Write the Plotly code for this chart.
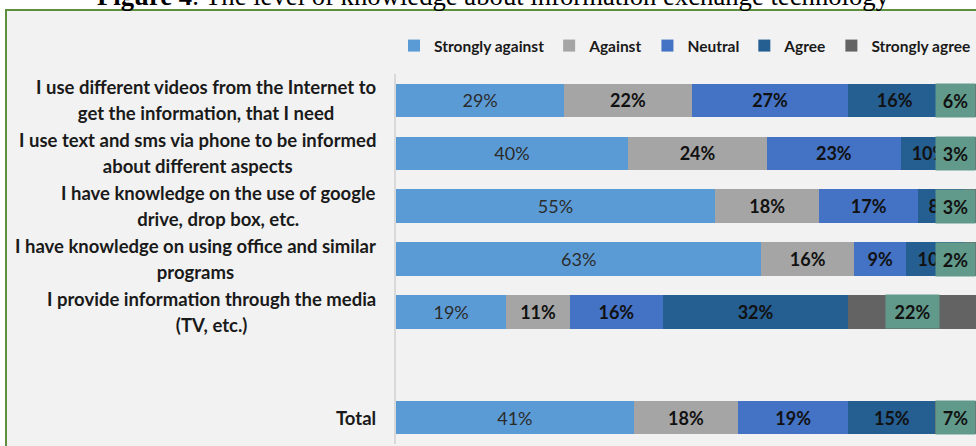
import plotly.graph_objects as go

# ---- data ----
categories = [
    "I use different videos from the Internet to<br>get the information, that I need",
    "I use text and sms via phone to be informed<br>about different aspects",
    "I have knowledge on the use of google<br>drive, drop box, etc.",
    "I have knowledge on using office and similar<br>programs",
    "I provide information through the media<br>(TV, etc.)",
    " ",
    "Total",
]
series_names = ["Strongly against", "Against", "Neutral", "Agree", "Strongly agree"]
strongly_against = [29, 40, 55, 63, 19, None, 41]
against = [22, 24, 18, 16, 11, None, 18]
neutral = [27, 23, 17, 9, 16, None, 19]
agree = [16, 10, 8, 10, 32, None, 15]
strongly_agree = [6, 3, 3, 2, 22, None, 7]
title_text = "<b>Figure 4</b>. The level of knowledge about information exchange technology"

# ---- style ----
W, H = 976, 446
L, R, T, B = 396, 0, 74, 2
PW, PH = W - L - R, H - T - B
colors = ["#5B9BD5", "#A5A5A5", "#4472C4", "#255E91", "#636363"]
label_box = "#619A8B"
FONT = "Lato"

def px_x(p):
    return (p - L) / PW

def px_y(p):
    return (H - B - p) / PH

fig = go.Figure()
all_series = [strongly_against, against, neutral, agree, strongly_agree]
for i, (name, vals) in enumerate(zip(series_names, all_series)):
    bold = i > 0
    txt = [None if v is None else (f"<b>{v}%</b>" if bold else f"{v}%") for v in vals]
    fig.add_trace(go.Bar(
        name=f"<b>{name}</b>", y=categories, x=vals, orientation="h",
        marker=dict(color=colors[i], line=dict(width=0)),
        text=txt if i < 4 else None,
        texttemplate="%{text}" if i < 4 else None,
        textposition="inside" if i < 4 else "none",
        insidetextanchor="middle", textangle=0, constraintext="none",
        insidetextfont=dict(family=FONT, size=18,
                            color="#2b2b2b" if i == 0 else "#111111"),
    ))

annotations = []
# labels for strongly agree segments (with filled box)
for k, v in enumerate(strongly_agree):
    if v is None:
        continue
    before = sum(s[k] for s in all_series[:4])
    if v >= 10:
        x, xa, w = before + v / 2, "center", 51
    else:
        x, xa, w = 100, "right", 37
    annotations.append(dict(
        x=x, y=categories[k], xref="x", yref="y", xanchor=xa, yanchor="middle",
        text=f"<b>{v}%</b>", showarrow=False, bgcolor=label_box,
        width=w, height=31, borderpad=1,
        font=dict(family=FONT, size=18, color="#111111"),
    ))

# category labels: base size 20 gives the wider line spacing, glyphs drawn smaller
for cat in categories:
    if not cat.strip():
        continue
    lines = cat.split("<br>")
    txt = "<br>".join(f'<span style="font-size:18.5px"><b>{ln}</b></span>' for ln in lines)
    annotations.append(dict(
        x=0, y=cat, xref="paper", yref="y", xanchor="right", yanchor="middle",
        xshift=-18, align="center", showarrow=False, text=txt,
        font=dict(family=FONT, size=20, color="#1a1a1a"),
    ))

# cropped title at the top
annotations.append(dict(
    x=px_x(493), y=px_y(13), xref="paper", yref="paper", xanchor="center", yanchor="bottom",
    text=title_text, showarrow=False,
    font=dict(family="Liberation Serif", size=26.7, color="#000000"),
))

shapes = [dict(
    type="rect", xref="paper", yref="paper",
    x0=px_x(6), x1=px_x(W + 20), y0=px_y(H + 20), y1=px_y(10),
    fillcolor="#F2F2F2", line=dict(color="#5F8F3E", width=2), layer="below",
)]

fig.update_layout(
    width=W, height=H, margin=dict(l=L, r=R, t=T, b=B, pad=0),
    paper_bgcolor="#FFFFFF", plot_bgcolor="rgba(0,0,0,0)",
    barmode="stack", bargap=0.37,
    showlegend=True,
    legend=dict(orientation="h", x=1, xanchor="right", y=px_y(46), yanchor="middle",
                font=dict(family=FONT, size=15.5, color="#1a1a1a"),
                bgcolor="rgba(0,0,0,0)", traceorder="normal"),
    xaxis=dict(range=[0, 100], visible=False, fixedrange=True),
    yaxis=dict(categoryorder="array", categoryarray=categories, autorange="reversed",
               showticklabels=False, showgrid=False, zeroline=False, ticks="",
               showline=True, linecolor="#D9D9D9", linewidth=1.5),
    uniformtext=dict(minsize=18, mode="show"),
    annotations=annotations, shapes=shapes,
)

fig.write_html("out.html")
